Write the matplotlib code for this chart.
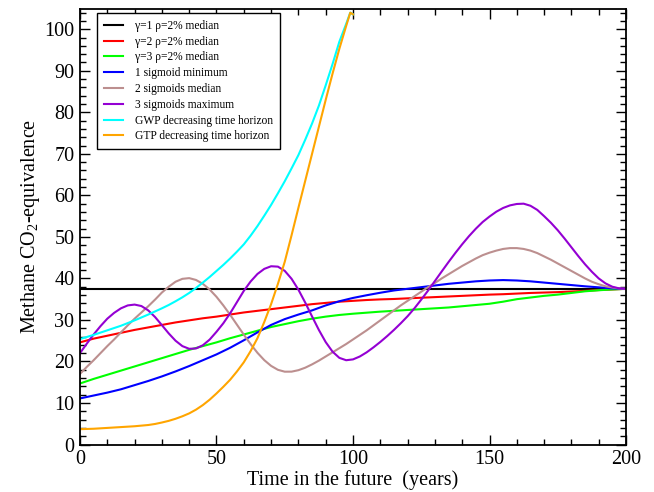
import matplotlib
matplotlib.use('Agg')
import matplotlib.pyplot as plt
import numpy as np
from matplotlib.ticker import MultipleLocator

# ---------------- data ----------------
years5 = np.arange(0, 201, 5)          # 0, 5, ..., 200
years_fine = np.arange(0, 200.1, 2.5)  # 0, 2.5, ..., 200
years_horizon = list(np.arange(0, 97.6, 2.5)) + [99, 100]

gamma1_years = [0, 200]
gamma1_median = [37.5, 37.5]

gamma2_median = [24.6, 25.5, 26.2, 26.9, 27.6, 28.2, 28.8, 29.4, 29.9, 30.4,
                 30.8, 31.3, 31.8, 32.2, 32.6, 33.0, 33.4, 33.8, 34.1, 34.4,
                 34.6, 34.8, 34.95, 35.05, 35.2, 35.35, 35.5, 35.65, 35.8, 35.95,
                 36.1, 36.2, 36.35, 36.5, 36.6, 36.7, 36.85, 37.0, 37.2, 37.35,
                 37.5]

gamma3_median = [14.7, 15.8, 16.8, 17.8, 18.8, 19.8, 20.8, 21.8, 22.8, 23.7,
                 24.6, 25.6, 26.5, 27.4, 28.3, 29.0, 29.7, 30.3, 30.8, 31.2,
                 31.5, 31.75, 32.0, 32.2, 32.4, 32.6, 32.8, 33.0, 33.3, 33.6,
                 33.9, 34.4, 35.0, 35.4, 35.8, 36.1, 36.5, 36.9, 37.15, 37.35,
                 37.5]

sigmoid1_min = [11.1, 11.8, 12.5, 13.3, 14.3, 15.3, 16.4, 17.6, 18.9, 20.3,
                21.7, 23.3, 25.1, 27.0, 28.8, 30.2, 31.3, 32.3, 33.5, 34.5,
                35.3, 35.95, 36.55, 37.1, 37.5, 37.9, 38.3, 38.7, 39.0, 39.3,
                39.5, 39.6, 39.5, 39.3, 39.0, 38.7, 38.4, 38.1, 37.85, 37.6,
                37.5]

sigmoid2_median = [17.0, 18.7, 20.3, 22.0, 23.7, 25.3, 27.0, 28.7, 30.3,
                   31.8, 33.3, 34.9, 36.6, 38.0, 39.2, 39.9, 40.07,
                   39.63, 38.7, 37.33, 35.57, 33.5, 31.24, 28.85, 26.46, 24.18, 22.09, 20.32, 18.94,
                   17.99, 17.54, 17.55, 17.9, 18.5, 19.3, 20.2, 21.2, 22.2, 23.2, 24.2,
                   25.3, 26.4, 27.5, 28.7, 29.9, 31.1, 32.3, 33.5, 34.6, 35.7, 36.8, 37.9, 38.9,
                   40.0, 41.0, 42.0, 43.0, 43.9, 44.8, 45.6, 46.2, 46.7, 47.1, 47.3, 47.3,
                   47.1, 46.7, 46.1, 45.3, 44.5, 43.6, 42.7, 41.8, 40.9, 40.0, 39.2, 38.6,
                   38.1, 37.8, 37.6, 37.5]

sigmoid3_max = [22.0, 24.3, 26.5, 28.5, 30.3, 31.7, 32.8, 33.5, 33.7,
                33.35, 32.3, 30.7, 28.75, 26.76, 25.0, 23.7, 23.05,
                23.14, 23.9, 25.27, 27.15, 29.2, 31.6, 34.3, 37.0, 39.26, 41.07, 42.3, 42.93,
                42.84, 41.82, 39.91, 37.29, 34.18, 30.85, 27.59, 24.67, 22.37, 20.87, 20.3,
                20.5, 21.2, 22.2, 23.4, 24.7, 26.1, 27.6, 29.2, 30.9, 32.8, 34.9, 37.07, 39.38,
                41.68, 43.95, 46.14, 48.23, 50.19, 51.98, 53.59, 54.9, 56.07, 56.97, 57.59, 57.93,
                58.0, 57.5, 56.5, 55.0, 53.4, 51.6, 49.6, 47.5, 45.4, 43.4, 41.6, 40.0,
                38.8, 38.0, 37.6, 37.5]

gwp_horizon = [25.4, 25.9, 26.4, 26.95, 27.5, 28.05, 28.6, 29.25, 29.9, 30.6,
               31.3, 32.05, 32.8, 33.6, 34.5, 35.45, 36.5, 37.7, 39.0, 40.35,
               41.8, 43.25, 44.8, 46.45, 48.2, 50.3, 52.6, 55.1, 57.7, 60.5,
               63.4, 66.5, 69.7, 73.4, 77.3, 81.6, 86.5, 91.6, 97.0, 101.3,
               104.0, 103.6]

gtp_horizon = [3.7, 3.75, 3.8, 3.9, 4.0, 4.1, 4.2, 4.3, 4.4, 4.55,
               4.7, 4.95, 5.3, 5.7, 6.2, 6.8, 7.5, 8.4, 9.5, 10.8,
               12.3, 13.9, 15.6, 17.6, 19.8, 22.5, 25.6, 29.5, 33.8, 38.7,
               44.0, 50.4, 57.0, 63.5, 70.0, 76.5, 83.0, 89.3, 95.3, 100.8,
               104.0, 103.6]

labels = ["γ=1 ρ=2% median", "γ=2 ρ=2% median", "γ=3 ρ=2% median",
          "1 sigmoid minimum", "2 sigmoids median", "3 sigmoids maximum",
          "GWP decreasing time horizon", "GTP decreasing time horizon"]
colors = ["#000000", "#ff0000", "#00ff00", "#0000ff",
          "#bc8f8f", "#9400d3", "#00ffff", "#ffa500"]

# ---------------- style ----------------
plt.rcParams['font.family'] = ['Liberation Serif', 'DejaVu Serif']
plt.rcParams['mathtext.fontset'] = 'custom'
plt.rcParams['mathtext.rm'] = 'Liberation Serif'
plt.rcParams['mathtext.it'] = 'Liberation Serif:italic'

fig = plt.figure(figsize=(6.54, 4.92), dpi=100)
ax = fig.add_axes([0.1223, 0.0965, 0.8349, 0.8862])

series = [(gamma1_years, gamma1_median), (years5, gamma2_median),
          (years5, gamma3_median), (years5, sigmoid1_min),
          (years_fine, sigmoid2_median), (years_fine, sigmoid3_max),
          (years_horizon, gwp_horizon), (years_horizon, gtp_horizon)]

for (x, y), lab, c in zip(series, labels, colors):
    ax.plot(x, y, color=c, lw=1.5, label=lab, solid_joinstyle='round')

ax.set_xlim(0, 200)
ax.set_ylim(0, 105)
ax.xaxis.set_major_locator(MultipleLocator(50))
ax.xaxis.set_minor_locator(MultipleLocator(10))
ax.yaxis.set_major_locator(MultipleLocator(10))
ax.yaxis.set_minor_locator(MultipleLocator(2))
ax.tick_params(which='both', direction='in', top=True, right=True,
               labelsize=14.5, colors='black', width=1.0)
ax.tick_params(which='major', length=7, pad=4)
ax.tick_params(which='minor', length=4)
for s in ax.spines.values():
    s.set_linewidth(1.3)

ax.set_xlabel("Time in the future  (years)", fontsize=14.5, labelpad=1)
ax.set_ylabel("Methane CO$_2$-equivalence", fontsize=14.5, labelpad=1.5)

leg = ax.legend(loc='upper left', bbox_to_anchor=(0.031, 0.99), borderaxespad=0,
                fontsize=8.3, frameon=True, fancybox=False, edgecolor='black',
                framealpha=1, handlelength=1.7, handletextpad=1.0,
                labelspacing=0.33, borderpad=0.6)
leg.get_frame().set_linewidth(1.0)

fig.savefig('out.png', dpi=100)
